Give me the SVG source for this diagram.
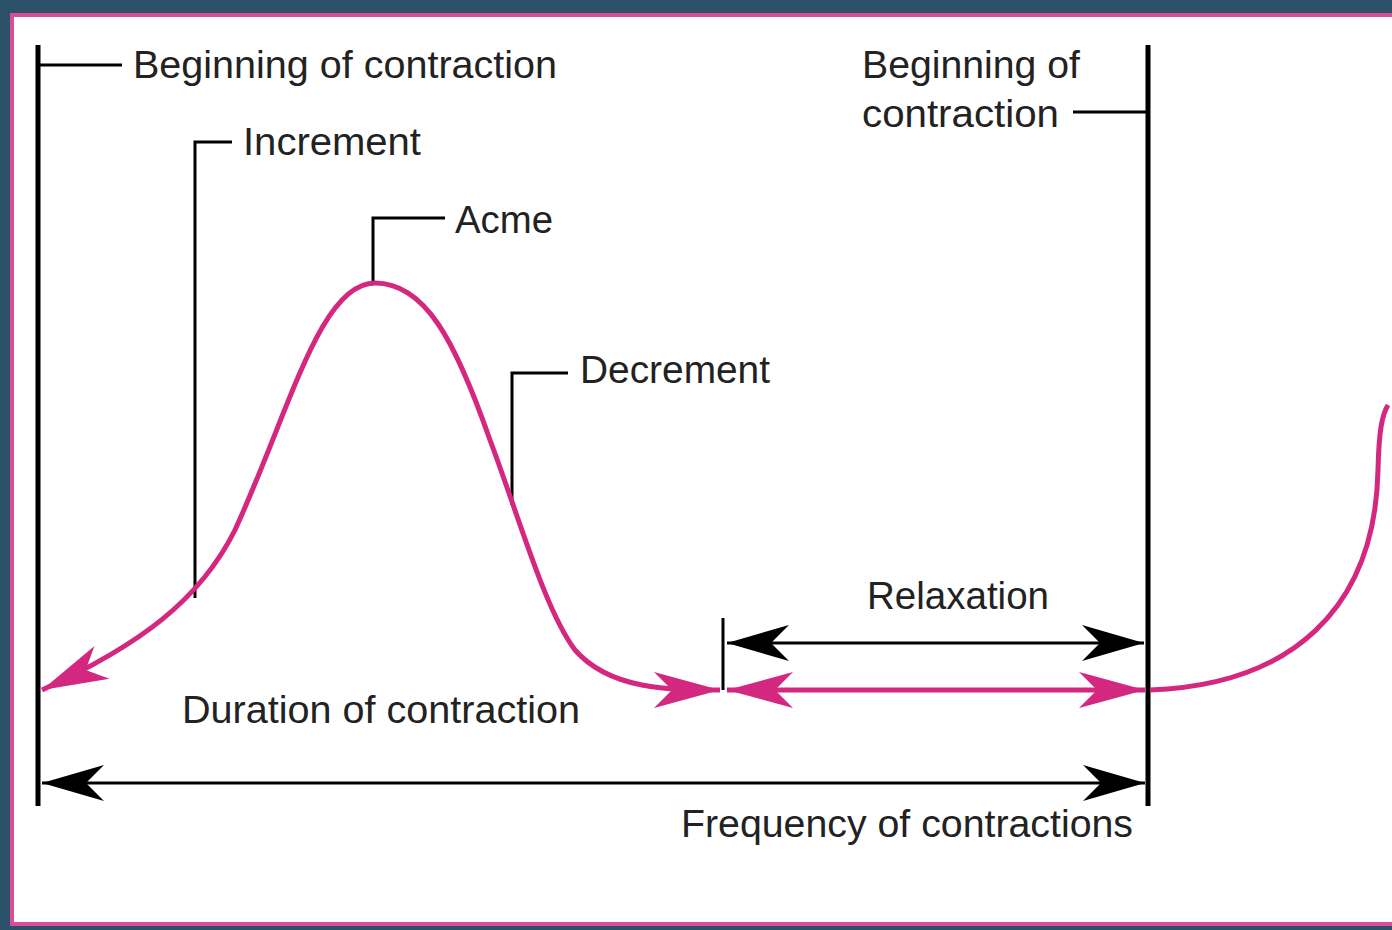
<svg xmlns="http://www.w3.org/2000/svg" width="1392" height="930" viewBox="0 0 1392 930">
<style>
text{font-family:"Liberation Sans",Arial,sans-serif;font-size:38px;fill:#222}
.k{stroke:#000;fill:none;stroke-width:3}
.kb{stroke:#000;fill:none;stroke-width:5}
.p{stroke:#d4277f;fill:none;stroke-width:5}
</style>
<defs>
<marker id="ak" markerUnits="userSpaceOnUse" viewBox="-64 -20 66 40" refX="0" refY="0" markerWidth="66" markerHeight="40" orient="auto-start-reverse"><path d="M0,0 L-62,-18 L-44,0 L-62,18 Z" fill="#000"/></marker>
<marker id="ap" markerUnits="userSpaceOnUse" viewBox="-68 -20 70 40" refX="0" refY="0" markerWidth="70" markerHeight="40" orient="auto-start-reverse"><path d="M0,0 L-66,-18 L-48,0 L-66,18 Z" fill="#d4277f"/></marker>
</defs>
<rect width="1392" height="930" fill="#2c5269"/>
<rect x="12" y="15" width="1384" height="909" fill="#fff" stroke="#d84c98" stroke-width="4"/>
<g id="connectors">
<line class="kb" x1="38" y1="45" x2="38" y2="806"/>
<line class="kb" x1="1148" y1="45" x2="1148" y2="806"/>
<line class="k" x1="723" y1="618" x2="723" y2="690"/>
<polyline class="k" points="38,65 122,65"/>
<polyline class="k" points="195,598 195,142 232,142"/>
<polyline class="k" points="373,283 373,218 445,218"/>
<polyline class="k" points="512,505 512,373 568,373"/>
<polyline class="k" points="1073,112 1148,112"/>
<line class="k" x1="727" y1="643" x2="1144" y2="643" marker-start="url(#ak)" marker-end="url(#ak)"/>
<line class="k" x1="42" y1="783" x2="1145" y2="783" marker-start="url(#ak)" marker-end="url(#ak)"/>
<line class="p" x1="727" y1="690" x2="1145" y2="690" marker-start="url(#ap)" marker-end="url(#ap)"/>
<path class="p" d="M42,690 C140,645 200,600 235,530 C290,410 320,283 375,283 C425,283 455,340 490,440 C520,520 545,610 575,650 C610,690 670,690 720,690" marker-start="url(#ap)" marker-end="url(#ap)"/>
<path class="p" d="M1150,690 C1290,685 1375,610 1378,470 C1379,430 1382,415 1388,405"/>
</g>
<g id="labels">
<text x="133" y="78" textLength="424" lengthAdjust="spacingAndGlyphs">Beginning of contraction</text>
<text x="243" y="155" textLength="178" lengthAdjust="spacingAndGlyphs">Increment</text>
<text x="455" y="233" textLength="98" lengthAdjust="spacingAndGlyphs">Acme</text>
<text x="580" y="383" textLength="190" lengthAdjust="spacingAndGlyphs">Decrement</text>
<text x="862" y="78" textLength="218" lengthAdjust="spacingAndGlyphs">Beginning of</text>
<text x="862" y="127" textLength="197" lengthAdjust="spacingAndGlyphs">contraction</text>
<text x="867" y="609" textLength="182" lengthAdjust="spacingAndGlyphs">Relaxation</text>
<text x="182" y="723" textLength="398" lengthAdjust="spacingAndGlyphs">Duration of contraction</text>
<text x="681" y="837" textLength="452" lengthAdjust="spacingAndGlyphs">Frequency of contractions</text>
</g>
</svg>
